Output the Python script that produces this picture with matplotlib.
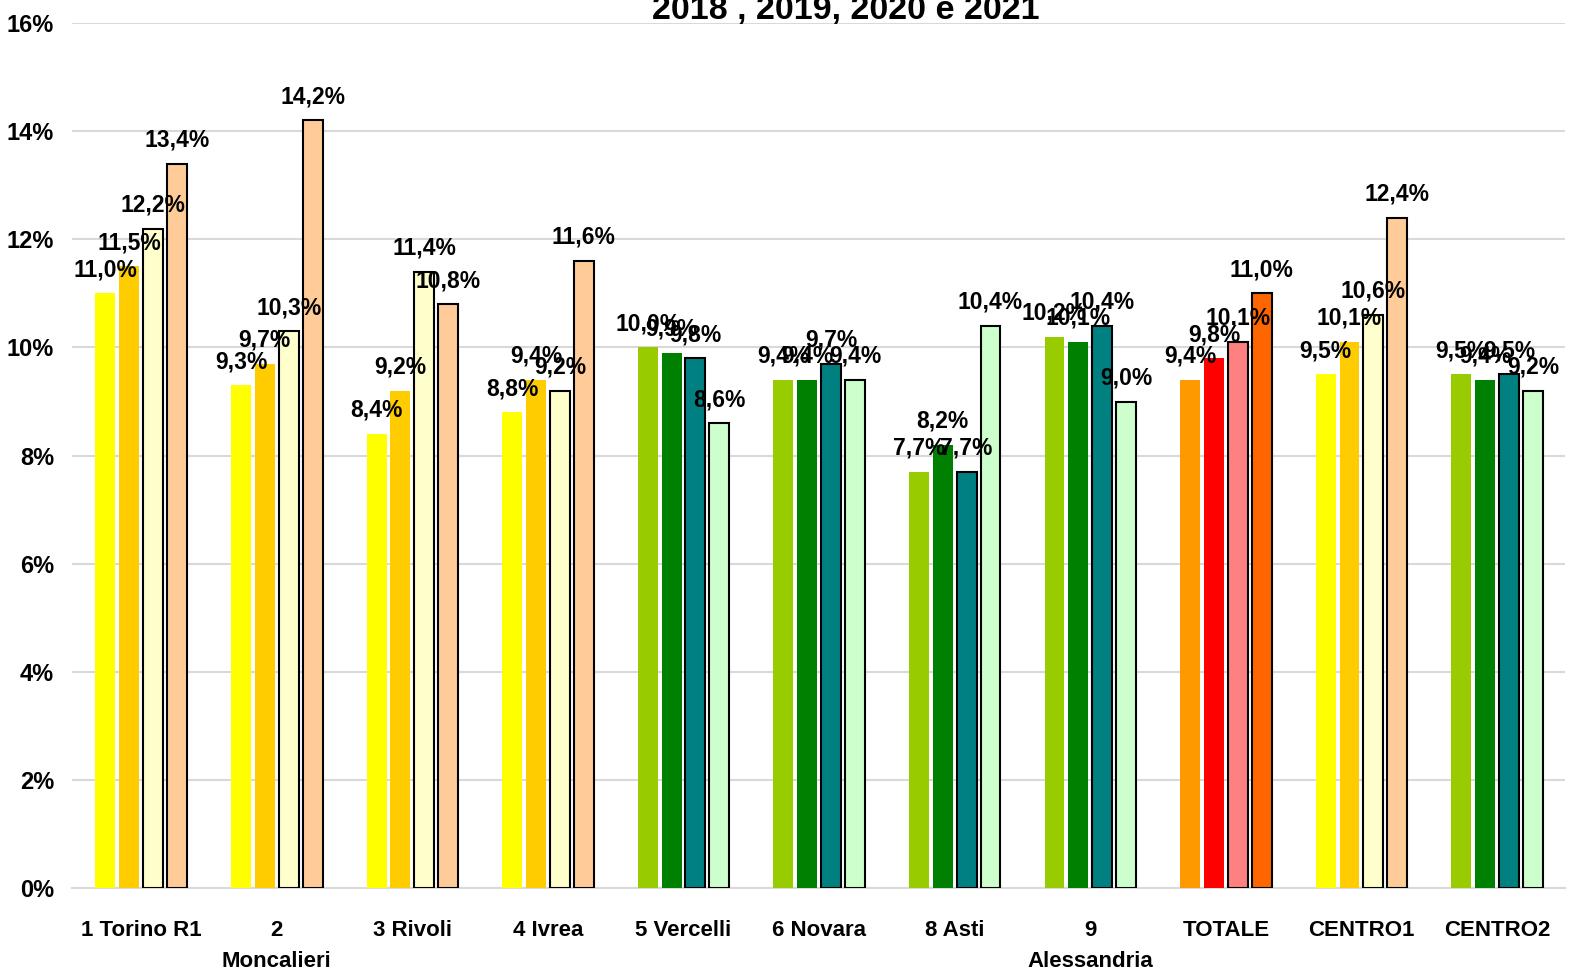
import matplotlib
matplotlib.use("Agg")
import matplotlib.pyplot as plt
from matplotlib.ticker import FuncFormatter
import numpy as np

plt.rcParams['font.family'] = ['Liberation Sans', 'DejaVu Sans']
plt.rcParams['font.weight'] = 'bold'

categories = ["1 Torino R1", "2\nMoncalieri", "3 Rivoli", "4 Ivrea", "5 Vercelli",
              "6 Novara", "8 Asti", "9\nAlessandria", "TOTALE", "CENTRO1", "CENTRO2"]

# one list per year (percent)
v2018 = [11.0, 9.3, 8.4, 8.8, 10.0, 9.4, 7.7, 10.2, 9.4, 9.5, 9.5]
v2019 = [11.5, 9.7, 9.2, 9.4, 9.9, 9.4, 8.2, 10.1, 9.8, 10.1, 9.4]
v2020 = [12.2, 10.3, 11.4, 9.2, 9.8, 9.7, 7.7, 10.4, 10.1, 10.6, 9.5]
v2021 = [13.4, 14.2, 10.8, 11.6, 8.6, 9.4, 10.4, 9.0, 11.0, 12.4, 9.2]

# colour palette of each group
pal_yellow = ["#FFFF00", "#FFCC00", "#FFFFCC", "#FFCC99"]
pal_green = ["#99CC00", "#008000", "#008080", "#CCFFCC"]
pal_red = ["#FF9900", "#FF0000", "#FF8080", "#FF6600"]
group_palette = [pal_yellow, pal_yellow, pal_yellow, pal_yellow, pal_green, pal_green,
                 pal_green, pal_green, pal_red, pal_yellow, pal_green]

series = [v2018, v2019, v2020, v2021]

fig = plt.figure(figsize=(15.73, 9.73), dpi=100)
ax = fig.add_axes([0.0458, 0.0874, 0.949, 0.8888])

x = np.arange(len(categories))
step = 0.176
width = 0.147
for i, vals in enumerate(series):
    pos = x + (i - 1.5) * step
    cols = [p[i] for p in group_palette]
    if i >= 2:
        bars = ax.bar(pos, np.array(vals) / 100, width, color=cols,
                      edgecolor="black", linewidth=1.5, zorder=3)
    else:
        bars = ax.bar(pos, np.array(vals) / 100, width, color=cols,
                      linewidth=0, zorder=3)
    for b, v in zip(bars, vals):
        ax.annotate(f"{v:.1f}%".replace(".", ","),
                    (b.get_x() + b.get_width() / 2, b.get_height()),
                    xytext=(0, 17), textcoords="offset points",
                    ha="center", va="center", fontsize=16.5, fontweight="bold", zorder=4)

ax.set_xlim(-0.51, 10.5)
ax.set_ylim(0, 0.16)
ax.set_yticks(np.arange(0, 0.161, 0.02))
ax.yaxis.set_major_formatter(FuncFormatter(lambda v, p: f"{v*100:.0f}%"))
ax.set_xticks(x)
ax.set_xticklabels(categories, fontsize=16, fontweight="bold", linespacing=1.65)
ax.tick_params(axis="x", length=0, pad=23)
ax.tick_params(axis="y", length=0, labelsize=17, pad=13)
for lab in ax.get_yticklabels():
    lab.set_fontweight("bold")

ax.grid(axis="y", color="#D9D9D9", linewidth=1.5, zorder=0)
for s in ["top", "right", "left"]:
    ax.spines[s].set_visible(False)
ax.spines["bottom"].set_color("#D9D9D9")
ax.spines["bottom"].set_linewidth(1.5)

fig.text(846 / 1573, 1 - 19 / 973, "2018 , 2019, 2020 e 2021", ha="center",
         va="baseline", fontsize=24.5, fontweight="bold")

fig.savefig("out.png", dpi=100)
